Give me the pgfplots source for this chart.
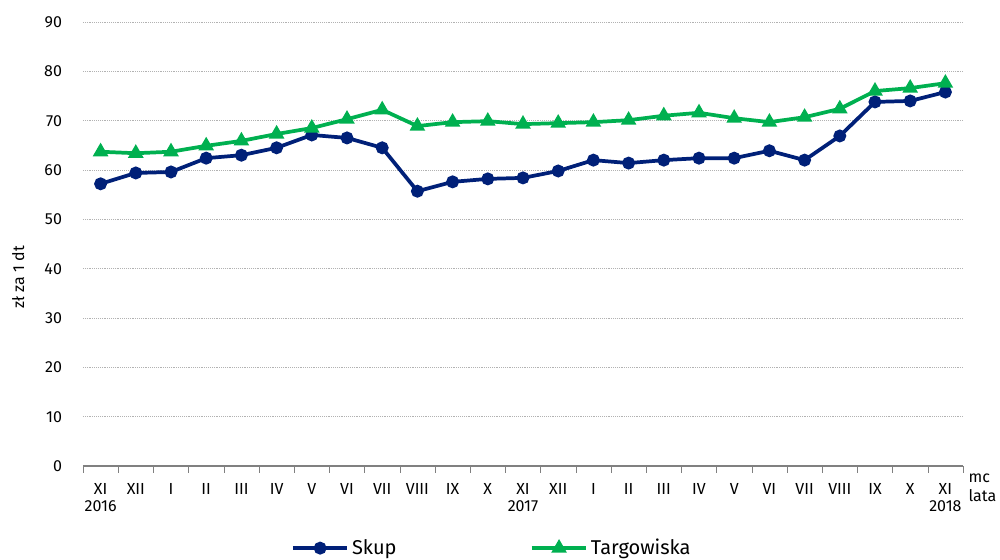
\documentclass[border=0pt]{standalone}
\usepackage{fontspec}
\setmainfont{Fira Sans}
\usepackage{pgfplots}
\pgfplotsset{compat=1.18}
\definecolor{skup}{RGB}{0,32,120}
\definecolor{targ}{RGB}{0,176,80}
\begin{document}
\begin{tikzpicture}
\begin{axis}[
  name=ax,
  scale only axis,
  width=660pt, height=333pt,
  xmin=-0.5, xmax=24.5,
  ymin=0, ymax=90,
  ytick={0,10,...,90},
  ymajorgrids,
  grid style={gray!60, densely dotted, line width=0.5pt},
  axis x line*=bottom,
  axis y line*=left,
  y axis line style={draw=none},
  major y tick style={draw=none},
  yticklabel style={xshift=-8pt},
  xtick={0,...,24},
  xticklabels={XI\\2016,XII,I,II,III,IV,V,VI,VII,VIII,IX,X,XI\\2017,XII,I,II,III,IV,V,VI,VII,VIII,IX,X,XI\\2018},
  xticklabel style={align=center, anchor=north, yshift=-5pt},
  major x tick style={draw=none},
  minor xtick={-0.5,0.5,...,24.5},
  minor x tick style={gray},
  minor tick length=5pt,
  tick align=outside,
  x axis line style={gray, line width=0.8pt},
  ylabel={zł za 1 dt},
  ylabel style={yshift=8pt, xshift=-25pt},
  every tick label/.append style={font=\fontsize{12}{13}\selectfont},
  label style={font=\fontsize{12}{14}\selectfont},
  /pgf/number format/assume math mode=true,
  legend columns=2,
  legend style={at={(0.236,-0.185)}, anchor=west, draw=none, inner sep=0pt, font=\fontsize{15}{17}\selectfont,
    /tikz/every even column/.append style={column sep=98pt}},
  legend image code/.code={
    \draw[#1,mark=none] (0pt,0pt) -- (41pt,0pt);
    \draw[#1,only marks] plot coordinates {(20.5pt,0pt)};
  },
  clip=false,
]
\addplot[color=skup, line width=2.8pt, mark=*, mark size=3.4pt, mark options={solid}] coordinates {
(0,57.2) (1,59.4) (2,59.6) (3,62.4) (4,63.0) (5,64.5) (6,67.1) (7,66.5) (8,64.5) (9,55.7)
(10,57.6) (11,58.2) (12,58.4) (13,59.8) (14,62.0) (15,61.4) (16,62.0) (17,62.4) (18,62.4)
(19,63.9) (20,62.0) (21,66.9) (22,73.8) (23,74.0) (24,75.8)};
\addlegendentry{Skup}
\addplot[color=targ, line width=2.8pt, mark=triangle*, mark size=4pt, mark options={solid}] coordinates {
(0,63.7) (1,63.4) (2,63.7) (3,64.9) (4,65.9) (5,67.3) (6,68.5) (7,70.3) (8,72.2) (9,68.9)
(10,69.7) (11,69.9) (12,69.3) (13,69.5) (14,69.7) (15,70.1) (16,71.0) (17,71.6) (18,70.5)
(19,69.7) (20,70.7) (21,72.4) (22,76.0) (23,76.6) (24,77.6)};
\addlegendentry{Targowiska}
\node[anchor=north west, align=left, font=\fontsize{12}{14}\selectfont, inner sep=0pt] at (rel axis cs:1,0) [yshift=-6pt, xshift=4pt] {mc\\lata};
\end{axis}
\pgfresetboundingbox
\path ([xshift=-62.25pt,yshift=-70.5pt]ax.south west) rectangle ([xshift=27.75pt,yshift=16.5pt]ax.north east);
\end{tikzpicture}
\end{document}
